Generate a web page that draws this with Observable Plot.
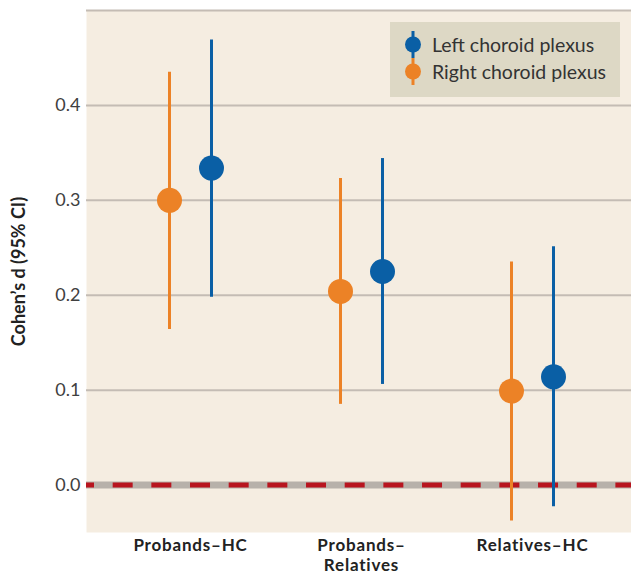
<!DOCTYPE html>
<html>
<head>
<meta charset="utf-8">
<script src="https://cdn.jsdelivr.net/npm/d3@7"></script>
<script src="https://cdn.jsdelivr.net/npm/@observablehq/plot@0.6"></script>
<style>
  html, body { margin: 0; padding: 0; background: #fff; }
  #wrap { position: relative; width: 631px; height: 575px; font-family: Lato, "Open Sans", sans-serif; }
  #legend { position: absolute; left: 390px; top: 22px; width: 230px; height: 75px; background: #ddd8c5; box-sizing: border-box; padding-top: 9px; }
  .item { display: flex; align-items: center; height: 27px; padding-left: 14px; font-size: 19.5px; color: #333; }
  .item svg { margin-right: 10px; flex: none; }
</style>
</head>
<body>
<div id="wrap"><div id="legend"></div></div>
<script>
const comparisons = ["Probands–HC", "Probands–Relatives", "Relatives–HC"];
const tickLabels = ["Probands–HC", "Probands–\nRelatives", "Relatives–HC"];
const seriesNames = ["Left choroid plexus", "Right choroid plexus"];
const seriesColors = ["#0a5fa5", "#ec8226"];
const leftD  = [0.334, 0.225, 0.114];
const leftLo = [0.198, 0.106, -0.023];
const leftHi = [0.469, 0.344, 0.251];
const rightD  = [0.300, 0.204, 0.099];
const rightLo = [0.164, 0.085, -0.038];
const rightHi = [0.435, 0.323, 0.235];
const yTicks = [0.0, 0.1, 0.2, 0.3, 0.4];
const gridTicks = [0.1, 0.2, 0.3, 0.4, 0.5];

const left = comparisons.map((c, i) => ({c, d: leftD[i], lo: leftLo[i], hi: leftHi[i]}));
const right = comparisons.map((c, i) => ({c, d: rightD[i], lo: rightLo[i], hi: rightHi[i]}));
const labelOf = Object.fromEntries(comparisons.map((c, i) => [c, tickLabels[i]]));

const chart = Plot.plot({
  width: 631,
  height: 575,
  marginLeft: 86,
  marginRight: 0,
  marginTop: 10,
  marginBottom: 43,
  style: {fontFamily: "Lato, 'Open Sans', sans-serif", background: "transparent", overflow: "visible"},
  x: {type: "point", domain: comparisons, range: [190, 532], padding: 0},
  y: {domain: [-0.05, 0.5]},
  marks: [
    Plot.frame({fill: "#f5ede1", stroke: null}),
    Plot.gridY(gridTicks, {stroke: "#c4bcb4", strokeOpacity: 1, strokeWidth: 2}),
    Plot.ruleY([0], {stroke: "#b7b1aa", strokeWidth: 7}),
    Plot.ruleY([0], {stroke: "#b8151f", strokeWidth: 5, strokeDasharray: "20,18.67", strokeDashoffset: 12}),
    Plot.ruleX(right, {x: "c", y1: "lo", y2: "hi", dx: -21, stroke: seriesColors[1], strokeWidth: 3}),
    Plot.ruleX(left, {x: "c", y1: "lo", y2: "hi", dx: 21, stroke: seriesColors[0], strokeWidth: 3}),
    Plot.dot(right, {x: "c", y: "d", dx: -21, r: 12.5, fill: seriesColors[1]}),
    Plot.dot(left, {x: "c", y: "d", dx: 21, r: 12.5, fill: seriesColors[0]}),
    Plot.axisY(yTicks, {
      tickSize: 0, tickPadding: 6, fontSize: 18, fill: "#404040",
      tickFormat: d3.format(".1f"),
      label: "Cohen’s d (95% CI)", labelAnchor: "center", labelArrow: "none", labelOffset: 74
    }),
    Plot.axisX({
      tickSize: 0, tickPadding: 4, fontSize: 17, fontWeight: "bold", fill: "#222",
      lineHeight: 1.2, tickFormat: c => labelOf[c], label: null
    })
  ]
});
d3.select(chart).selectAll("[aria-label='y-axis label'] text").attr("font-weight", "bold").attr("font-size", 18).attr("fill", "#222");
d3.select(chart).selectAll("[aria-label='x-axis tick label'] text").style("letter-spacing", "0.8px");
document.getElementById("wrap").prepend(chart);

const legend = document.getElementById("legend");
seriesNames.forEach((name, i) => {
  const item = document.createElement("div");
  item.className = "item";
  item.innerHTML = `<svg width="18" height="27"><line x1="9" x2="9" y1="0" y2="27" stroke="${seriesColors[i]}" stroke-width="3"/><circle cx="9" cy="13.5" r="8" fill="${seriesColors[i]}"/></svg><span>${name}</span>`;
  legend.appendChild(item);
});
</script>
</body>
</html>
